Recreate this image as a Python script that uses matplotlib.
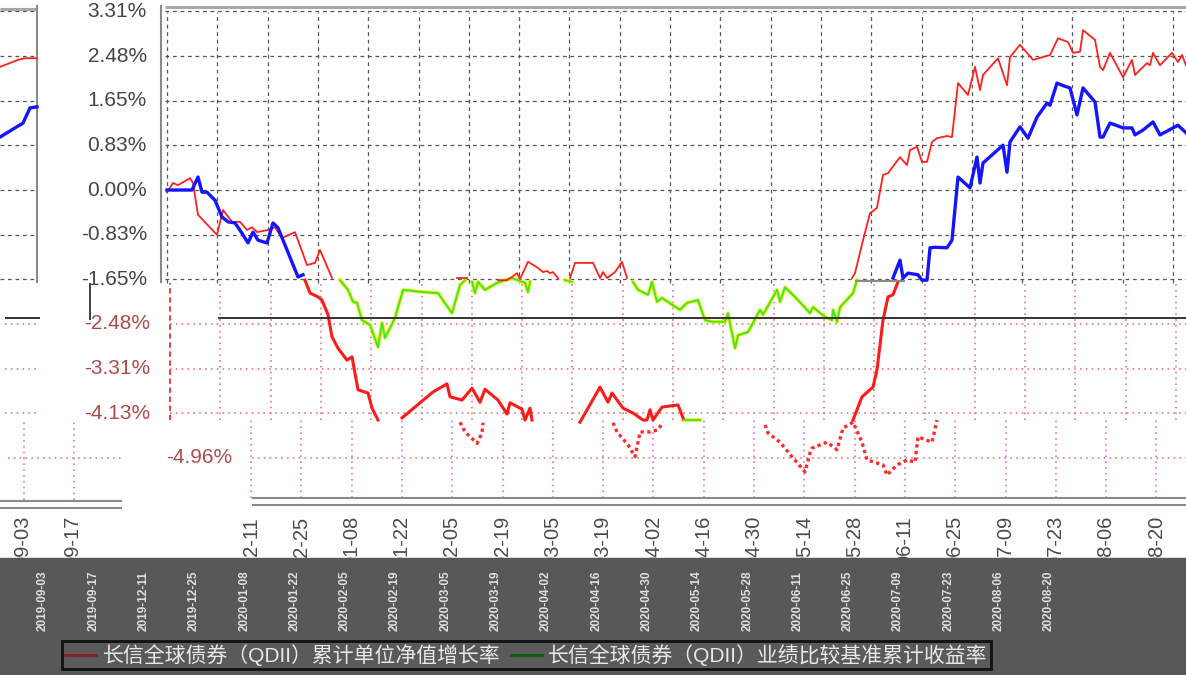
import numpy as np
import matplotlib.pyplot as plt
from matplotlib.lines import Line2D
from matplotlib.patches import Rectangle

nan = np.nan

# cumulative return (%) against trading-day index
# (nan = part of the line that is hidden / not drawn in the capture)
red_day = [0.4, 1.6, 2.6, 5.0, 5.6, 6.6, 10.4, 11.6, 13.4, 15.0, 16.4, 17.4, 18.4, 20.6, 22.0, 23.4, 26.0, 28.4, 30.0, 31.0, 33.4,
           nan, 58.4, 60.4,
           nan, 66.6, 68.4, 69.4, 70.4, 71.0, 72.6, 74.4, 75.6, 76.4, 77.0, 77.6, 78.6,
           nan, 81.0, 82.0, 85.6, 87.0, 87.6, 88.4, 90.0, 91.4, 92.4,
           nan, 137.4, 138.0, 139.6, 141.0, 142.4, 143.6, 144.6, 147.0, 148.4, 149.0,
           150.4, 151.4, 152.4, 153.4, 154.4, 156.4, 157.4, 158.6, 160.6, 162.0,
           163.0, 163.6, 166.6, 168.4, 169.0, 171.0, 173.6, 177.0, 178.6, 180.6,
           181.6, 183.0, 183.6, 186.0, 187.0, 187.6, 189.0, 191.6, 193.4, 194.0,
           196.4, 197.0, 197.6, 199.0, 201.4, 202.6, 203.4, 204.2]
red_pct = [-0.04, 0.13, 0.09, 0.22, 0.13, -0.46, -0.83, -0.37, -0.59, -0.59, -0.74, -0.69, -0.78, -0.74, -0.69, -0.89, -0.78, -1.39, -1.35, -1.11, -1.63,
           nan, -1.63, -1.63,
           nan, -1.67, -1.67, -1.61, -1.54, -1.65, -1.33, -1.43, -1.52, -1.50, -1.54, -1.52, -1.63,
           nan, -1.63, -1.35, -1.35, -1.63, -1.52, -1.63, -1.52, -1.33, -1.63,
           nan, -1.63, -1.54, -0.93, -0.43, -0.33, 0.28, 0.31, 0.61, 0.46, 0.74,
           0.80, 0.52, 0.52, 0.89, 0.96, 1.00, 0.98, 1.98, 1.76, 2.28,
           1.85, 2.13, 2.44, 1.94, 2.46, 2.69, 2.41, 2.50, 2.81, 2.74,
           2.54, 2.56, 2.96, 2.78, 2.28, 2.22, 2.54, 2.09, 2.41, 2.13,
           2.35, 2.31, 2.54, 2.31, 2.54, 2.37, 2.50, 2.31]

blue_day = [0.4, 5.4, 6.6, 7.4, 8.4, 10.0, 11.4, 12.6, 14.0, 15.4, 16.6, 17.6, 18.6, 20.4, 21.6, 22.6, 26.6, 27.6,
            nan, 145.6, 147.0, 147.6, 148.6, 150.6, 151.4, 152.4, 153.0, 154.0, 156.4,
            157.4, 158.6, 161.0, 162.4, 163.0, 163.6, 167.6, 168.4, 169.0, 171.0,
            172.6, 174.4, 176.4, 177.0, 178.4, 179.4, 181.0, 182.4, 183.6, 186.0,
            187.0, 187.6, 189.0, 191.6, 193.4, 194.0, 195.6, 197.6, 199.0, 202.6, 204.2]
blue_pct = [0.00, 0.00, 0.24, -0.04, -0.04, -0.19, -0.50, -0.59, -0.61, -0.80, -0.98, -0.78, -0.93, -0.98, -0.61, -0.70, -1.61, -1.57,
            nan, -1.63, -1.30, -1.63, -1.54, -1.57, -1.67, -1.67, -1.07, -1.06, -1.07,
            -0.93, 0.24, 0.04, 0.61, 0.13, 0.50, 0.83, 0.33, 0.89, 1.17,
            0.96, 1.35, 1.61, 1.57, 1.98, 1.94, 1.89, 1.39, 1.89, 1.63,
            0.98, 0.98, 1.24, 1.15, 1.15, 1.02, 1.11, 1.26, 1.02, 1.20, 1.06]

# colour-shifted copy in the middle strip
green_day = [35.0, 36.6, 37.6, 38.4, 39.4, 41.0, 42.6, 43.4, 44.0, 46.0, 47.6, 51.6, 54.6, 57.4, 59.0, 60.0,
             nan, 61.4, 62.0, 62.6, 64.0, 66.4, 69.4, 72.0, 72.6, 73.0,
             nan, 80.0, 81.4,
             nan, 93.6, 94.6, 96.6, 97.4, 98.4, 99.4, 103.0, 104.4, 106.6, 108.0,
             109.4, 112.0, 112.6, 114.0, 114.6, 116.6, 119.0, 119.6, 122.4, 123.0,
             124.0, 126.0, 129.0, 129.6, 132.0, 133.4, 133.6, 134.4, 135.0, 137.6, 138.4,
             nan, 103.6, 107.0]
green_pct = [-1.67, -1.85, -2.07, -2.09, -2.41, -2.50, -2.91, -2.46, -2.74, -2.37, -1.85, -1.89, -1.91, -2.28, -1.76, -1.67,
             nan, -1.70, -1.91, -1.70, -1.85, -1.72, -1.63, -1.72, -1.89, -1.70,
             nan, -1.67, -1.70,
             nan, -1.70, -1.85, -1.94, -1.70, -2.07, -2.00, -2.22, -2.09, -2.04, -2.41,
             -2.44, -2.44, -2.28, -2.93, -2.69, -2.63, -2.22, -2.31, -1.85, -2.07,
             -1.80, -1.98, -2.28, -2.17, -2.35, -2.41, -2.22, -2.44, -2.17, -1.91, -1.67,
             nan, -4.26, -4.26]

red_low_day = [28.0, 29.0, 30.6, 31.4, 32.6, 33.4, 34.6, 36.4, 37.4, 38.6, 40.6, 41.4, 42.6,
               nan, 47.4, 53.6, 56.4, 57.0, 59.4, 61.4, 63.0, 64.0, 66.6, 68.4, 69.0, 71.4, 72.0, 73.0, 73.4,
               nan, 83.0, 87.0, 88.6, 89.4, 91.6, 93.6, 95.6, 96.4, 97.0, 97.6, 99.4, 102.6, 103.6,
               nan, 137.6, 139.4, 141.6, 142.4, 143.6, 144.6, 145.6, 146.6]
red_low_pct = [-1.67, -1.91, -1.98, -2.04, -2.31, -2.72, -2.93, -3.15, -3.09, -3.70, -3.76, -4.04, -4.26,
               nan, -4.22, -3.74, -3.59, -3.83, -3.89, -3.67, -3.93, -3.69, -3.89, -4.15, -3.94, -4.06, -4.26, -4.04, -4.26,
               nan, -4.30, -3.65, -3.93, -3.76, -4.04, -4.13, -4.26, -4.26, -4.07, -4.26, -4.02, -3.98, -4.22,
               nan, -4.26, -3.83, -3.65, -3.33, -2.41, -1.98, -1.94, -1.70]

dot_day = [59.0, 60.0, 62.4, 63.4, 63.6,
           nan, 89.6, 90.4, 92.6, 94.0, 94.6, 95.0, 97.0, 98.6, 99.6,
           nan, 120.0, 120.6, 123.0, 125.4, 128.0, 129.0, 129.4, 132.4, 134.4, 135.6,
           137.6, 139.4, 140.4, 143.6, 144.4, 146.4, 148.4, 150.0, 150.6, 153.4, 154.4]
dot_pct = [-4.30, -4.48, -4.69, -4.50, -4.31,
           nan, -4.31, -4.48, -4.72, -4.94, -4.67, -4.48, -4.48, -4.44, -4.30,
           nan, -4.35, -4.50, -4.67, -4.94, -5.22, -4.87, -4.78, -4.67, -4.81, -4.41,
           -4.30, -4.67, -5.00, -5.09, -5.28, -5.09, -5.00, -5.04, -4.57, -4.67, -4.26]

# left ghost panel
ghost_red_day = [-33.0, -29.4, -28.0, -25.6]
ghost_red_pct = [2.28, 2.41, 2.44, 2.44]
ghost_blue_day = [-33.0, -28.4, -27.0, -25.6]
ghost_blue_pct = [0.98, 1.24, 1.52, 1.54]

cross_level = -2.37
y_ticks = [3.31, 2.48, 1.65, 0.83, 0.00, -0.83, -1.65, -2.48, -3.31, -4.13, -4.96]
date_labels = ["2019-12-11", "2019-12-25", "2020-01-08", "2020-01-22", "2020-02-05", "2020-02-19",
               "2020-03-05", "2020-03-19", "2020-04-02", "2020-04-16", "2020-04-30", "2020-05-14",
               "2020-05-28", "2020-06-11", "2020-06-25", "2020-07-09", "2020-07-23", "2020-08-06",
               "2020-08-20"]
ghost_labels = ["2019-09-03", "2019-09-17"]
band_labels = ghost_labels + date_labels
legend_labels = ["长信全球债券（QDII）累计单位净值增长率",
                 "长信全球债券（QDII）业绩比较基准累计收益率"]

W, H = 1186, 675


# pixel -> data, only for placing the frame pieces
def xd(p):
    return (p - 165) / 5.0


def yd(p):
    return (190 - p) / 54.0


plt.rcParams['font.family'] = ['Liberation Sans', 'Noto Sans CJK SC', 'DejaVu Sans']

fig = plt.figure(figsize=(W / 100, H / 100), dpi=100)
ax = fig.add_axes([0, 0, 1, 1])
ax.set_xlim(xd(0), xd(W))
ax.set_ylim(yd(H), yd(0))
ax.axis('off')

step = 10.06
top_x = xd(167) + step * np.arange(21)
mid_x = xd(170) + step * np.arange(21)
bot_x = xd(251) + step * np.arange(len(date_labels))

dash = (0, (3, 3))
dots = (0, (1, 2.5))
# upper block grid
ax.hlines(y_ticks[:7], xd(165), xd(W), colors='#555555', linestyles=dash, lw=0.9, zorder=1)
ax.vlines(top_x, yd(283), yd(12), colors='#555555', linestyles=dash, lw=0.9, zorder=1)
ax.hlines(y_ticks[:7], xd(0), xd(37), colors='#555555', linestyles=dash, lw=0.9, zorder=1)
# middle strip grid
ax.hlines(y_ticks[7:10], xd(170), xd(W), colors='#e37a7a', linestyles=dots, lw=1.2, zorder=1)
ax.vlines(mid_x[1:], yd(420), yd(283), colors='#e37a7a', linestyles=dots, lw=1.2, zorder=1)
ax.vlines([xd(170)], yd(420), yd(283), colors='#e83030', linestyles=(0, (3, 2)), lw=1.3, zorder=1)
ax.hlines(y_ticks[7:10], xd(5), xd(40), colors='#e37a7a', linestyles=dots, lw=1.2, zorder=1)
# bottom strip grid
ax.hlines(y_ticks[10:], xd(252), xd(W), colors='#e37a7a', linestyles=dots, lw=1.2, zorder=1)
ax.vlines(bot_x, yd(498), yd(420), colors='#e070c8', linestyles=dots, lw=1.2, zorder=1)
ax.hlines(y_ticks[10:], xd(8), xd(122), colors='#e37a7a', linestyles=dots, lw=1.2, zorder=1)
ax.vlines([xd(24), xd(74)], yd(500), yd(420), colors='#e070c8', linestyles=dots, lw=1.2, zorder=1)

# frame pieces
ax.hlines([yd(7)], xd(165), xd(W), colors='#a8a8a8', lw=2.2, zorder=1)
ax.hlines([yd(9)], xd(0), xd(37), colors='#a8a8a8', lw=2.2, zorder=1)
ax.vlines([xd(161), xd(37)], yd(283), yd(5), colors='#8a8a8a', lw=1.5, zorder=1)
ax.hlines([yd(498), yd(505)], xd(252), xd(W), colors='#8a8a8a', lw=1.5, zorder=1)
ax.hlines([yd(501), yd(508)], xd(0), xd(122), colors='#8a8a8a', lw=1.5, zorder=1)
ax.vlines([xd(90)], yd(320), yd(283), colors='#333333', lw=1.3, zorder=1)

# series
ax.plot(green_day, green_pct, color='#eeee00', lw=2.6, zorder=2)
ax.plot(green_day, green_pct, color='#30e830', lw=1.2, zorder=2.1)
ax.plot(red_low_day, red_low_pct, color='#ff1a1a', lw=2.2, zorder=2.2)
ax.plot(dot_day, dot_pct, color='#ff2a2a', lw=2.4, ls=(0, (1, 1)), zorder=2.2)
ax.plot(red_day, red_pct, color='#ff2020', lw=1.3, zorder=3)
ax.plot(blue_day, blue_pct, color='#1414ff', lw=2.4, zorder=3)
ax.plot(ghost_red_day, ghost_red_pct, color='#ff2020', lw=1.3, zorder=3)
ax.plot(ghost_blue_day, ghost_blue_pct, color='#1414ff', lw=2.4, zorder=3)

ax.hlines([cross_level], xd(218), xd(W), colors='#333333', lw=1.4, zorder=3.5)
ax.hlines([cross_level], xd(5), xd(40), colors='#333333', lw=1.4, zorder=3.5)
ax.hlines([yd(281)], 138.0, 148.0, colors='#8a8a8a', lw=1.5, zorder=3.5)

# y labels
for v in y_ticks[:7]:
    ax.text(xd(147), v, f'{v:.2f}%', ha='right', va='center', fontsize=15, color='#454545')
for v in y_ticks[7:10]:
    ax.text(xd(150), v, f'{v:.2f}%', ha='right', va='center', fontsize=15, color='#b04a4a')
ax.text(xd(232), y_ticks[10], f'{y_ticks[10]:.2f}%', ha='right', va='center', fontsize=15, color='#b04a4a')

# date labels: only the month-day tail shows above the dark strip
white_strip = Rectangle((xd(0), yd(558)), xd(W) - xd(0), yd(509) - yd(558), transform=ax.transData)
label_x = [xd(23), xd(73)] + list(bot_x)
for x, lab in zip(label_x, band_labels):
    t = ax.text(x, yd(516), lab[5:], rotation=90, ha='center', va='top', fontsize=14.5,
                color='#4a4a4a', zorder=3, clip_on=True)
    t.set_clip_path(white_strip)

ax.axhspan(yd(H), yd(558), color='#585858', zorder=4)
for i, lab in enumerate(band_labels):
    ax.text(xd(43 + 50.3 * i), yd(631), lab, rotation=90, ha='center', va='bottom',
            fontsize=8.5, fontweight='bold', color='#e0e0e0', zorder=4.5)

handles = [Line2D([], [], color='#8a1c1c', lw=2), Line2D([], [], color='#0c5c0c', lw=2)]
leg = ax.legend(handles, legend_labels, loc='upper left', bbox_to_anchor=(62 / W, 1 - 641 / H),
                ncol=2, frameon=True, fancybox=False, facecolor='#5a5a5a', edgecolor='#111111',
                framealpha=1, fontsize=15, labelcolor='#e8e8e8', borderpad=0.15, borderaxespad=0,
                handlelength=1.5, handletextpad=0.3, columnspacing=0.5)
leg.get_frame().set_linewidth(2)
leg.set_zorder(6)

fig.savefig('out.png', dpi=100)
